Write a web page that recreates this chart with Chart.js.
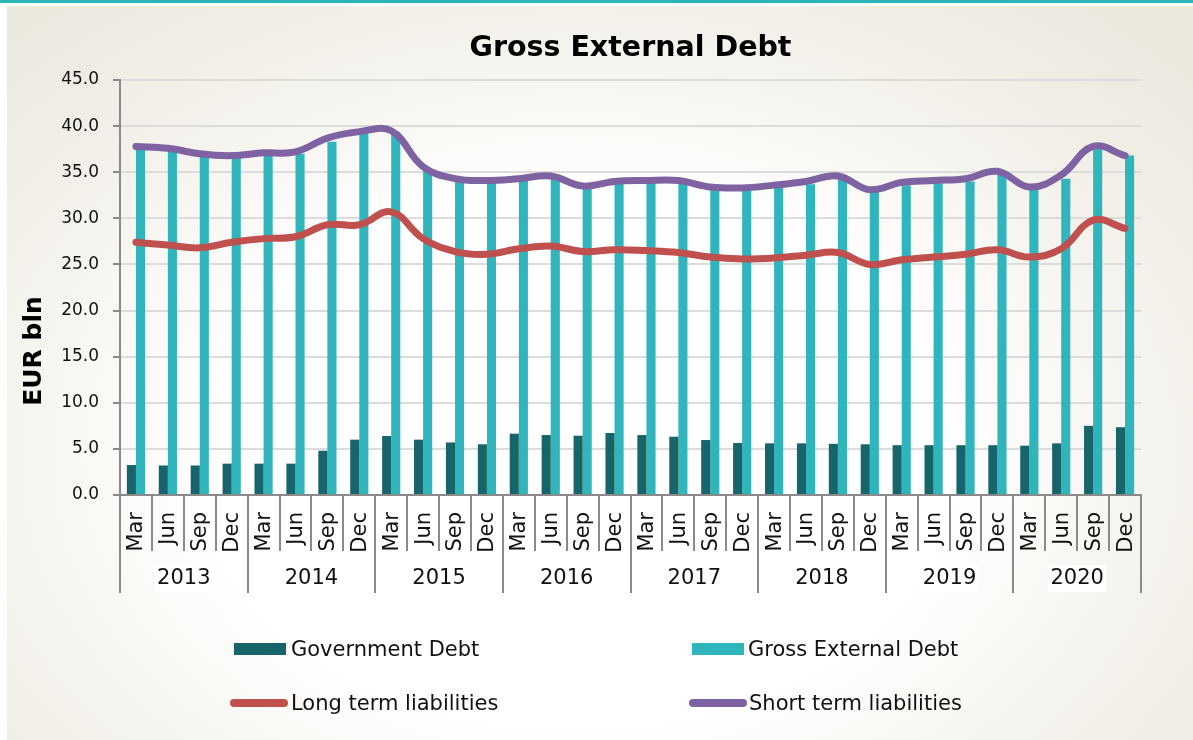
<!DOCTYPE html>
<html>
<head>
<meta charset="utf-8">
<script src="https://cdn.jsdelivr.net/npm/chart.js@4.4.1/dist/chart.umd.min.js"></script>
<style>
  html, body { margin: 0; padding: 0; background: #ffffff; }
  body { width: 1193px; height: 740px; position: relative; overflow: hidden; }
  #topline { position: absolute; left: 0; top: 0; width: 1193px; height: 3px; background: #2bb5b7; }
  #panel { position: absolute; left: 7px; top: 6px; width: 1186px; height: 734px;
    background: radial-gradient(ellipse 70% 80% at 48% 62%, #ffffff 45%, #f3f1ea 75%, #ebe8de 100%); }
  #wrap { position: absolute; left: 0; top: 0; width: 1193px; height: 740px; }
  .lg { position: absolute; font-family: "DejaVu Sans", Verdana, sans-serif; font-size: 21px; color: #111; line-height: 24px; white-space: nowrap; }
  .sw { position: absolute; }
</style>
</head>
<body>
<div id="topline"></div>
<div id="panel"></div>
<div id="wrap"><canvas id="c" width="1193" height="740"></canvas></div>
<div id="legend"></div>
<script>
// ---- data ----
const months = ['Mar', 'Jun', 'Sep', 'Dec'];
const years = ['2013', '2014', '2015', '2016', '2017', '2018', '2019', '2020'];
const categories = [];
years.forEach(function (y) { months.forEach(function (m) { categories.push(m); }); });

const governmentDebt = [3.25, 3.2, 3.2, 3.4, 3.4, 3.4, 4.8, 6.0,
  6.4, 6.0, 5.7, 5.5, 6.65, 6.5, 6.43, 6.72,
  6.5, 6.32, 5.96, 5.64, 5.6, 5.6, 5.55, 5.5,
  5.4, 5.4, 5.4, 5.4, 5.35, 5.6, 7.5, 7.35];
const grossExternalDebt = [37.6, 37.3, 36.8, 36.6, 36.9, 37.0, 38.3, 39.2,
  39.4, 35.3, 34.1, 33.9, 34.1, 34.3, 33.3, 33.8,
  33.9, 33.8, 33.2, 33.1, 33.4, 33.7, 34.3, 32.9,
  33.6, 33.8, 34.0, 34.7, 33.2, 34.3, 37.5, 36.8];
const longTermLiabilities = [27.4, 27.1, 26.8, 27.4, 27.8, 28.0, 29.3, 29.3,
  30.7, 27.8, 26.4, 26.1, 26.7, 27.0, 26.4, 26.6,
  26.5, 26.3, 25.8, 25.6, 25.7, 26.0, 26.3, 25.0,
  25.5, 25.8, 26.1, 26.6, 25.8, 26.7, 29.8, 28.9];
const shortTermLiabilities = [37.8, 37.6, 37.0, 36.8, 37.1, 37.2, 38.7, 39.4,
  39.5, 35.6, 34.3, 34.1, 34.3, 34.6, 33.5, 34.0,
  34.1, 34.1, 33.4, 33.3, 33.6, 34.0, 34.6, 33.1,
  33.9, 34.1, 34.3, 35.1, 33.4, 34.7, 37.8, 36.8];
const yAxisTitle = 'EUR bln';

const COL_GOV = '#17656b';
const COL_GROSS = '#2fb5bb';
const COL_LONG = '#c0504d';
const COL_SHORT = '#7f62a1';
const AXIS_GRAY = '#8a8a8a';
const FONT = '"DejaVu Sans", Verdana, sans-serif';

// ---- plugin: month separators + year row + y title ----
const groupPlugin = {
  id: 'groupRow',
  afterDraw: function (chart) {
    const xs = chart.scales.x;
    const ctx = chart.ctx;
    const area = chart.chartArea;
    const bottom = area.bottom;
    const step = xs.getPixelForValue(1) - xs.getPixelForValue(0);
    ctx.save();
    // year labels
    ctx.font = '21px ' + FONT;
    ctx.textAlign = 'center';
    ctx.textBaseline = 'middle';
    years.forEach(function (y, k) {
      const a = xs.getPixelForValue(k * months.length) - step / 2;
      const b = xs.getPixelForValue(k * months.length + months.length - 1) + step / 2;
      const cx = (a + b) / 2;
      const w = ctx.measureText(y).width;
      ctx.fillStyle = '#ffffff';
      ctx.fillRect(cx - w / 2 - 2, bottom + 70, w + 4, 27);
      ctx.fillStyle = '#111111';
      ctx.fillText(y, cx, bottom + 84);
    });
    // separators
    ctx.strokeStyle = AXIS_GRAY;
    ctx.lineWidth = 2;
    for (let i = 0; i <= categories.length; i++) {
      const px = Math.round(xs.getPixelForValue(0) - step / 2 + i * step);
      const isYear = i % months.length === 0;
      ctx.beginPath();
      ctx.moveTo(px, bottom);
      ctx.lineTo(px, bottom + (isYear ? 98 : 56));
      ctx.stroke();
    }
    // y axis title
    ctx.translate(34, 351);
    ctx.rotate(-Math.PI / 2);
    ctx.font = 'bold 25px ' + FONT;
    ctx.fillStyle = '#000000';
    ctx.textAlign = 'center';
    ctx.textBaseline = 'middle';
    ctx.fillText(yAxisTitle, 0, 0);
    ctx.restore();
  }
};

const ctx = document.getElementById('c').getContext('2d');
const chart = new Chart(ctx, {
  type: 'bar',
  data: {
    labels: categories,
    datasets: [
      { type: 'line', label: 'Long term liabilities', data: longTermLiabilities, borderColor: COL_LONG, backgroundColor: COL_LONG,
        borderWidth: 7, pointRadius: 0, tension: 0.4, borderCapStyle: 'round', borderJoinStyle: 'round', order: 0 },
      { type: 'line', label: 'Short term liabilities', data: shortTermLiabilities, borderColor: COL_SHORT, backgroundColor: COL_SHORT,
        borderWidth: 7, pointRadius: 0, tension: 0.4, borderCapStyle: 'round', borderJoinStyle: 'round', order: 0 },
      { type: 'bar', label: 'Government Debt', data: governmentDebt, backgroundColor: COL_GOV, order: 1,
        categoryPercentage: 0.57, barPercentage: 1.0 },
      { type: 'bar', label: 'Gross External Debt', data: grossExternalDebt, backgroundColor: COL_GROSS, order: 1,
        categoryPercentage: 0.57, barPercentage: 1.0 }
    ]
  },
  options: {
    responsive: false,
    animation: false,
    layout: { padding: { left: 0, right: 52, top: 0, bottom: 145 } },
    plugins: {
      legend: { display: false },
      tooltip: { enabled: false },
      title: {
        display: true, text: 'Gross External Debt', fullSize: false,
        color: '#000000', font: { family: FONT, size: 28.5, weight: 'bold' },
        padding: { top: 31, bottom: 14.8 }
      }
    },
    scales: {
      x: {
        offset: true,
        grid: { display: false },
        border: { display: true, color: AXIS_GRAY, width: 2 },
        ticks: {
          autoSkip: false, maxRotation: 90, minRotation: 90, padding: 9, labelOffset: 1,
          color: '#111111', font: { family: FONT, size: 21 }
        },
        afterFit: function (s) { s.height = 100; }
      },
      y: {
        min: 0, max: 45,
        grid: { color: '#dcdcdc', lineWidth: 2, tickLength: 7, tickColor: AXIS_GRAY, tickWidth: 2 },
        border: { display: true, color: AXIS_GRAY, width: 2 },
        ticks: {
          stepSize: 5, padding: 14, color: '#111111', font: { family: FONT, size: 17 },
          callback: function (v) { return Number(v).toFixed(1); }
        },
        afterFit: function (s) { s.width = 120; }
      }
    }
  },
  plugins: [groupPlugin]
});

// ---- HTML legend built from datasets ----
const legendSpec = [
  { label: 'Government Debt', color: COL_GOV, kind: 'box', sx: 234, tx: 291, y: 649 },
  { label: 'Gross External Debt', color: COL_GROSS, kind: 'box', sx: 692, tx: 748, y: 649 },
  { label: 'Long term liabilities', color: COL_LONG, kind: 'line', sx: 230, tx: 291, y: 703 },
  { label: 'Short term liabilities', color: COL_SHORT, kind: 'line', sx: 689, tx: 749, y: 703 }
];
const lg = document.getElementById('legend');
legendSpec.forEach(function (it) {
  const sw = document.createElement('div');
  sw.className = 'sw';
  if (it.kind === 'box') {
    sw.style.cssText = 'left:' + it.sx + 'px;top:' + (it.y - 6) + 'px;width:52px;height:12px;background:' + it.color + ';';
  } else {
    sw.style.cssText = 'left:' + it.sx + 'px;top:' + (it.y - 4) + 'px;width:58px;height:8px;border-radius:4px;background:' + it.color + ';';
  }
  lg.appendChild(sw);
  const t = document.createElement('div');
  t.className = 'lg';
  t.style.left = it.tx + 'px';
  t.style.top = (it.y - 12) + 'px';
  t.textContent = it.label;
  lg.appendChild(t);
});
</script>
</body>
</html>
